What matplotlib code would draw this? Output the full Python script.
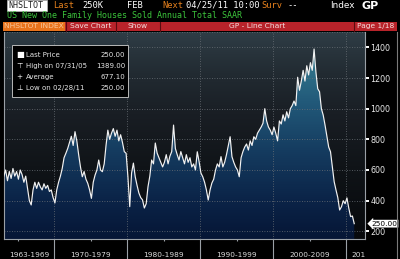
import numpy as np
import matplotlib
matplotlib.use("Agg")
import matplotlib.pyplot as plt
from matplotlib.colors import LinearSegmentedColormap
from matplotlib.patches import Rectangle, PathPatch
from matplotlib.lines import Line2D
from matplotlib.path import Path

# ---------------- data (quarterly, thousands, SAAR) ----------------
start_year = 1963
sales = [
    560, 600, 530, 590,   545, 610, 560, 590,   540, 600, 570, 520,
    560, 480, 400, 372,   470, 520, 480, 520,   490, 470, 510, 480,
    500, 460, 470, 420,   385, 470, 520, 560,   610, 680, 709, 740,
    780, 820, 760, 850,   790, 700, 620, 556,   590, 540, 513, 470,
    415, 520, 567, 600,   665, 600, 589, 640,   760, 860, 800, 840,
    870, 820, 860, 790,   830, 780, 720, 709,   556, 361, 580, 645,
    556, 500, 450, 420,   405, 352, 380, 491,   560, 665, 640, 776,
    710, 680, 650, 620,   650, 700, 640, 690,   720, 893, 740, 700,
    665, 720, 680, 640,   700, 650, 680, 620,   640, 600, 719, 654,
    580, 556, 520, 470,   404, 470, 515, 540,   600, 640, 620, 687,
    620, 650, 700, 760,   817, 687, 650, 620,   600, 556, 680, 720,
    750, 770, 730, 790,   760, 817, 800, 840,   860, 880, 905, 1000,
    920, 880, 860, 830,   880, 840, 790, 920,   900, 960, 920, 980,
    940, 1000, 1020, 1050, 1020, 1205, 1120, 1180, 1250, 1180, 1280, 1220,
    1300, 1250, 1389, 1240, 1130, 1110, 1000, 958, 893, 820, 750, 719,
    620, 524, 470, 420,   339, 360, 400, 380,   418, 352, 296, 300,
    250,
]
y_ticks = [200, 400, 600, 800, 1000, 1200, 1400]
decade_labels = ["1963-1969", "1970-1979", "1980-1989", "1990-1999", "2000-2009"]
decade_label_pos = [1966.6, 1975, 1985, 1995, 2005]
last_label = "201"
legend_rows = [("Last Price", "250.00"),
               ("High on 07/31/05", "1389.00"),
               ("Average", "677.10"),
               ("Low on 02/28/11", "250.00")]
legend_icons = ["\u25A0", "\u22A4", "+", "\u22A5"]
last_value = 250

t = start_year + 0.125 + np.arange(len(sales)) * 0.25
v = np.array(sales, dtype=float)

W, H = 400, 259
def fx(x): return x / W
def fy(y): return 1 - y / H

fig = plt.figure(figsize=(4.0, 2.59), dpi=100, facecolor="black")

# ---------------- header ----------------
mono = "DejaVu Sans Mono"
fig.add_artist(Rectangle((fx(7), fy(10.5)), fx(40), 10 / H, transform=fig.transFigure,
                         facecolor="white", edgecolor="#bbbbbb", lw=0.5))
fig.text(fx(8), fy(5.5), "NHSLTOT", color="#222222", family=mono, fontsize=6.0, va="center")
orange = "#e8821e"
hf = 6.3
fig.text(fx(53), fy(5.5), "Last", color=orange, family=mono, fontsize=hf, va="center")
fig.text(fx(82), fy(5.5), "250K", color="white", family=mono, fontsize=hf, va="center")
fig.text(fx(127), fy(5.5), "FEB", color="white", family=mono, fontsize=hf, va="center")
fig.text(fx(162), fy(5.5), "Next", color=orange, family=mono, fontsize=hf, va="center")
fig.text(fx(186), fy(5.5), "04/25/11 10:00", color="white", family=mono, fontsize=hf, va="center")
fig.text(fx(261), fy(5.5), "Surv", color=orange, family=mono, fontsize=hf, va="center")
fig.text(fx(287), fy(5.5), "--", color="white", family=mono, fontsize=hf, va="center")
fig.text(fx(330), fy(5.5), "Index", color="white", family="DejaVu Sans", fontsize=6.4, va="center")
fig.text(fx(362), fy(5.8), "GP", color="white", family="DejaVu Sans", fontsize=8.0,
         fontweight="bold", va="center")
fig.text(fx(7), fy(16), "US New One Family Houses Sold Annual Total SAAR", color="#3cc43c",
         family=mono, fontsize=6.0, va="center")

# tab bar
fig.add_artist(Rectangle((fx(3), fy(31)), fx(394), 9.3 / H, transform=fig.transFigure,
                         facecolor="#b8232a", edgecolor="none"))
fig.add_artist(Rectangle((fx(3), fy(31)), fx(62), 9.3 / H, transform=fig.transFigure,
                         facecolor="#e8731c", edgecolor="none"))
for xs in [66, 116, 160, 354]:
    fig.add_artist(Line2D([fx(xs), fx(xs)], [fy(31), fy(21.7)], transform=fig.transFigure,
                          color="#5a0c10", lw=0.8))
tabfont = dict(family="DejaVu Sans", fontsize=5.4, va="center", ha="center")
fig.text(fx(34), fy(26.3), "NHSLTOT INDEX", color="#f9c79a", **tabfont)
fig.text(fx(91), fy(26.3), "Save Chart", color="#f4dede", **tabfont)
fig.text(fx(138), fy(26.3), "Show", color="#f4dede", **tabfont)
fig.text(fx(257), fy(26.3), "GP - Line Chart", color="#f4dede", **tabfont)
fig.text(fx(376), fy(26.3), "Page 1/18", color="#f4dede", **tabfont)

# ---------------- chart ----------------
x0, x1 = 1963.15, 2012.6
ylo, yhi = 148, 1502
ax = fig.add_axes([fx(4), fy(239.3), fx(361), (239.3 - 31.7) / H])
ax.set_xlim(x0, x1)
ax.set_ylim(ylo, yhi)
ax.set_facecolor("black")

bg_cmap = LinearSegmentedColormap.from_list("bg", [
    (0.0, "#07090c"), (0.35, "#101418"), (0.6, "#191e24"), (0.8, "#222b32"), (1.0, "#2f3d46")])
area_cmap = LinearSegmentedColormap.from_list("area", [
    (0.0, "#061636"), (0.2, "#0b2448"), (0.45, "#153c60"), (0.7, "#225a7a"), (1.0, "#3a8494")])
grad = np.linspace(0, 1, 256).reshape(-1, 1)
ax.imshow(grad, extent=[x0, x1, ylo, yhi], origin="lower", aspect="auto", cmap=bg_cmap, zorder=0)
im = ax.imshow(grad, extent=[x0, x1, ylo, yhi], origin="lower", aspect="auto",
               cmap=area_cmap, zorder=1, vmin=0, vmax=0.95)
verts = np.vstack([[t[0], ylo], np.column_stack([t, v]), [t[-1], ylo], [t[0], ylo]])
clip = PathPatch(Path(verts), transform=ax.transData, facecolor="none", edgecolor="none")
ax.add_patch(clip)
im.set_clip_path(clip)

ax.plot(t, v, color="#f2f2f2", lw=0.85, zorder=3)

for yv in y_ticks + [yhi - 2]:
    ax.axhline(yv, color="#6a7076", lw=0.6, ls=(0, (1, 2)), zorder=2)
for xv in [1970, 1980, 1990, 2000, 2010]:
    ax.axvline(xv, color="#6a7076", lw=0.6, ls=(0, (1, 2)), zorder=2)

ax.spines["top"].set_visible(False)
for s in ["left", "bottom", "right"]:
    ax.spines[s].set_color("#9aa0a6")
    ax.spines[s].set_linewidth(0.8)

ax.yaxis.tick_right()
ax.set_yticks(y_ticks)
ax.set_yticklabels([str(y) for y in y_ticks])
ax.tick_params(axis="y", colors="white", labelcolor="#e8e8e8", labelsize=5.8,
               direction="out", length=3, width=1.4, pad=1)
ax.set_xticks([1970, 1980, 1990, 2000, 2010])
ax.set_xticklabels([])
ax.set_xticks([1965, 1975, 1985, 1995, 2005], minor=True)
ax.tick_params(axis="x", which="major", colors="#9aa0a6", direction="out", length=14.5, width=0.8)
ax.tick_params(axis="x", which="minor", colors="#9aa0a6", direction="out", length=1.5, width=0.8)

for lab, pos in zip(decade_labels, decade_label_pos):
    ax.text(pos, -0.075, lab, transform=ax.get_xaxis_transform(), color="#dcdcdc",
            fontsize=5.3, ha="center", va="center")
ax.text(2010.8, -0.075, last_label, transform=ax.get_xaxis_transform(), color="#dcdcdc",
        fontsize=5.3, ha="left", va="center")

# last-value marker on the right axis
ax.annotate(f"{last_value:.2f}", xy=(1.0, last_value), xycoords=ax.get_yaxis_transform(),
            xytext=(1.018, last_value), textcoords=ax.get_yaxis_transform(),
            color="black", fontsize=5.3, va="center", ha="left",
            bbox=dict(boxstyle="larrow,pad=0.12", fc="white", ec="none"), annotation_clip=False)

# legend box
fig.add_artist(Rectangle((fx(12.3), fy(97.3)), fx(116), 52.3 / H, transform=fig.transFigure,
                         facecolor="black", edgecolor="#b8b8b8", lw=0.7, zorder=5))
row_y = [55, 65.7, 77.3, 87.7]
for (lab, val), icon, ry in zip(legend_rows, legend_icons, row_y):
    fig.text(fx(16.5), fy(ry), icon, color="white", fontsize=6.0 if icon == "\u25A0" else 5.3,
             va="center", ha="left", zorder=6)
    fig.text(fx(26), fy(ry), lab, color="#e6e6e6", fontsize=5.0, va="center", ha="left", zorder=6)
    fig.text(fx(125), fy(ry), val, color="#e6e6e6", fontsize=5.0, va="center", ha="right", zorder=6)

# right scroll bar line
fig.add_artist(Line2D([fx(396.5), fx(396.5)], [fy(32), fy(259)], transform=fig.transFigure,
                      color="#7a7a7a", lw=0.8))

fig.savefig("out.png", dpi=100, facecolor="black")
